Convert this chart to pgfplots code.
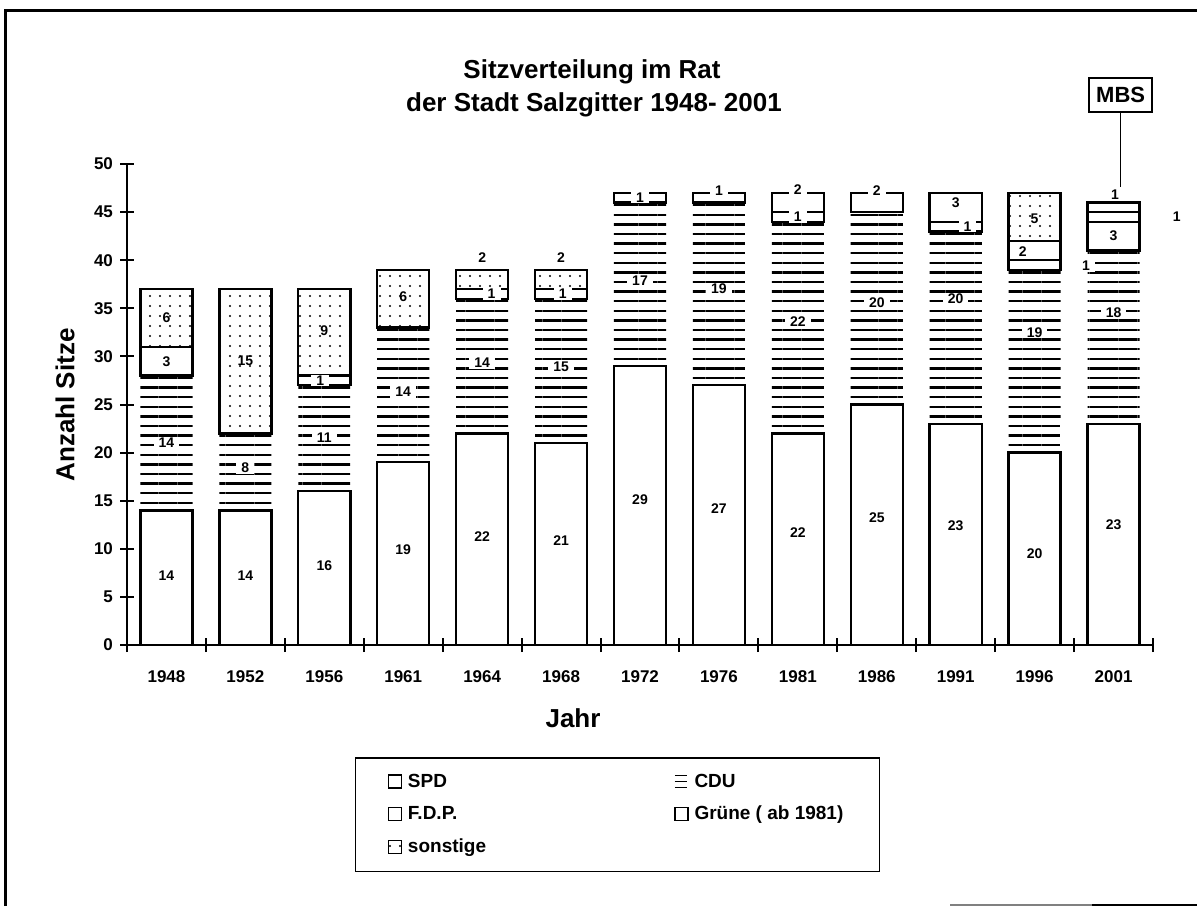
\documentclass[border=0pt]{standalone}
\usepackage{fontspec}
\setmainfont{Liberation Sans}
\usepackage{pgfplots}
\pgfplotsset{compat=1.18}
\usetikzlibrary{patterns.meta}
\begin{document}
\begin{tikzpicture}
\tikzset{lab/.style={font=\bfseries\fontsize{7}{8}\selectfont, inner sep=1pt},
  labw/.style={lab, fill=white, inner xsep=2.5pt, inner ysep=0.5pt}}
\begin{scope}[x=0.5pt,y=-0.5pt]
\path[use as bounding box] (0,0) rectangle (1197,906);
\draw[line width=1.5pt] (5,906) -- (5,10) -- (1197,10);
\draw[line width=0.8pt,gray] (950,905) -- (1092,905);
\draw[line width=1.2pt] (1092,905) -- (1197,905);
\node[font=\bfseries\fontsize{13}{15}\selectfont] at (592,72) {Sitzverteilung im Rat};
\node[font=\bfseries\fontsize{13}{15}\selectfont] at (594,105) {der Stadt Salzgitter 1948- 2001};
\node[rotate=90, font=\bfseries\fontsize{13}{15}\selectfont] at (65,405) {Anzahl Sitze};
\node[font=\bfseries\fontsize{13}{15}\selectfont] at (573,718) {Jahr};
\end{scope}
\begin{axis}[
  at={(63.5pt,-322.5pt)}, anchor=south west,
  scale only axis, width=513pt, height=240.5pt,
  xmin=-0.5, xmax=12.5, ymin=0, ymax=50,
  axis x line=bottom, axis y line=left,
  axis line style={-, line width=1.3pt},
  ybar stacked, bar width=0.66,
  clip=false,
  xtick={-0.5,0.5,...,12.5},
  x tick label as interval,
  xticklabels={1948,1952,1956,1961,1964,1968,1972,1976,1981,1986,1991,1996,2001},
  ytick={0,5,...,50},
  tick style={line width=1pt, black},
  tick align=center, major tick length=7pt,
  tick label style={font=\bfseries\fontsize{8.5}{10}\selectfont},
  /pgf/number format/assume math mode=true,
  xticklabel style={yshift=-6pt},
  yticklabel style={xshift=0pt},
  legend columns=2,
  legend style={at={(rel axis cs:0.222,-0.233)}, anchor=north west, draw=black, line width=0.8pt,
    font=\bfseries\fontsize{9.5}{11}\selectfont,
    /tikz/every even column/.append style={column sep=92pt},
    /tikz/every odd column/.append style={column sep=1pt},
    row sep=4pt, inner xsep=16pt, inner ysep=6pt},
  legend cell align=left,
  legend image code/.code={\draw[#1, line width=0.7pt] (0pt,-3pt) rectangle (6.5pt,3.5pt);},
]
\addplot[draw=black, fill=white, line width=1.2pt] coordinates {(0,14) (1,14) (2,16) (3,19) (4,22) (5,21) (6,29) (7,27) (8,22) (9,25) (10,23) (11,20) (12,23)};
\addlegendentry{SPD}
\addplot[draw=none, pattern={Lines[angle=0,distance=4.8pt,line width=1.2pt]},
  legend image code/.code={\draw[line width=0.5pt] (0pt,-2.5pt)--(6pt,-2.5pt) (0pt,0.5pt)--(6pt,0.5pt) (0pt,3.5pt)--(6pt,3.5pt);}]
  coordinates {(0,14) (1,8) (2,11) (3,14) (4,14) (5,15) (6,17) (7,19) (8,22) (9,20) (10,20) (11,19) (12,18)};
\addlegendentry{CDU}
\addplot[draw=black, fill=white, line width=1.2pt] coordinates {(0,3) (1,0) (2,1) (3,0) (4,1) (5,1) (6,1) (7,1) (8,1) (9,0) (10,1) (11,1) (12,3)};
\addlegendentry{F.D.P.}
\addplot[draw=black, fill=white, line width=1.2pt] coordinates {(0,0) (1,0) (2,0) (3,0) (4,0) (5,0) (6,0) (7,0) (8,2) (9,2) (10,3) (11,2) (12,1)};
\addlegendentry{Grüne ( ab 1981)}
\addplot[draw=black, pattern={Dots[distance=5pt,radius=0.6pt]}, line width=1.2pt] coordinates {(0,6) (1,15) (2,9) (3,6) (4,2) (5,2) (6,0) (7,0) (8,0) (9,0) (10,0) (11,5) (12,0)};
\addlegendentry{sonstige}
\addplot[draw=black, fill=white, line width=1.2pt, forget plot] coordinates {(0,0) (1,0) (2,0) (3,0) (4,0) (5,0) (6,0) (7,0) (8,0) (9,0) (10,0) (11,0) (12,1)};
\end{axis}
% segment labels, in the axis' units (x: category index, y: seats)
\begin{scope}[shift={(83.2308pt,-322.5pt)}, x=39.4615pt, y=4.81pt]
% SPD
\node[lab] at (0,7.2) {14};
\node[lab] at (1,7.2) {14};
\node[lab] at (2,8.2) {16};
\node[lab] at (3,9.9) {19};
\node[lab] at (4,11.3) {22};
\node[lab] at (5,10.9) {21};
\node[lab] at (6,15.1) {29};
\node[lab] at (7,14.2) {27};
\node[lab] at (8,11.7) {22};
\node[lab] at (9,13.2) {25};
\node[lab] at (10,12.4) {23};
\node[lab] at (11,9.5) {20};
\node[lab] at (12,12.5) {23};
% CDU
\node[labw] at (0,21) {14};
\node[labw] at (1,18.4) {8};
\node[labw] at (2,21.6) {11};
\node[labw] at (3,26.3) {14};
\node[labw] at (4,29.3) {14};
\node[labw] at (5,28.9) {15};
\node[labw] at (6,37.9) {17};
\node[labw] at (7,37.0) {19};
\node[labw] at (8,33.6) {22};
\node[labw] at (9,35.6) {20};
\node[labw] at (10,36.0) {20};
\node[labw] at (11,32.5) {19};
\node[labw] at (12,34.5) {18};
% others
\node[lab] at (0,29.5) {3};
\node[lab] at (0,34) {6};
\node[lab] at (1,29.6) {15};
\node[labw] at (1.95,27.5) {1};
\node[lab] at (2,32.7) {9};
\node[lab] at (3,36.2) {6};
\node[labw] at (4,40.3) {2};
\node[labw] at (4.12,36.5) {1};
\node[labw] at (5,40.3) {2};
\node[labw] at (5.02,36.5) {1};
\node[labw] at (6,46.5) {1};
\node[labw] at (7,47.2) {1};
\node[labw] at (8,47.3) {2};
\node[labw] at (8,44.5) {1};
\node[labw] at (9,47.2) {2};
\node[lab] at (10,46.0) {3};
\node[labw] at (10.15,43.5) {1};
\node[labw] at (11.65,39.4) {1};
\node[labw] at (10.85,40.9) {2};
\node[lab] at (11,44.3) {5};
\node[lab] at (12,42.5) {3};
\node[lab] at (12.8,44.5) {1};
\node[labw] at (12.02,46.8) {1};
\node[draw, line width=1pt, font=\bfseries\fontsize{11}{13}\selectfont, inner sep=2pt, minimum width=31.5pt, minimum height=17pt] at (12.09,57.2) {MBS};
\draw[line width=0.8pt] (12.09,55.45) -- (12.09,47.6);
\end{scope}
\end{tikzpicture}
\end{document}
